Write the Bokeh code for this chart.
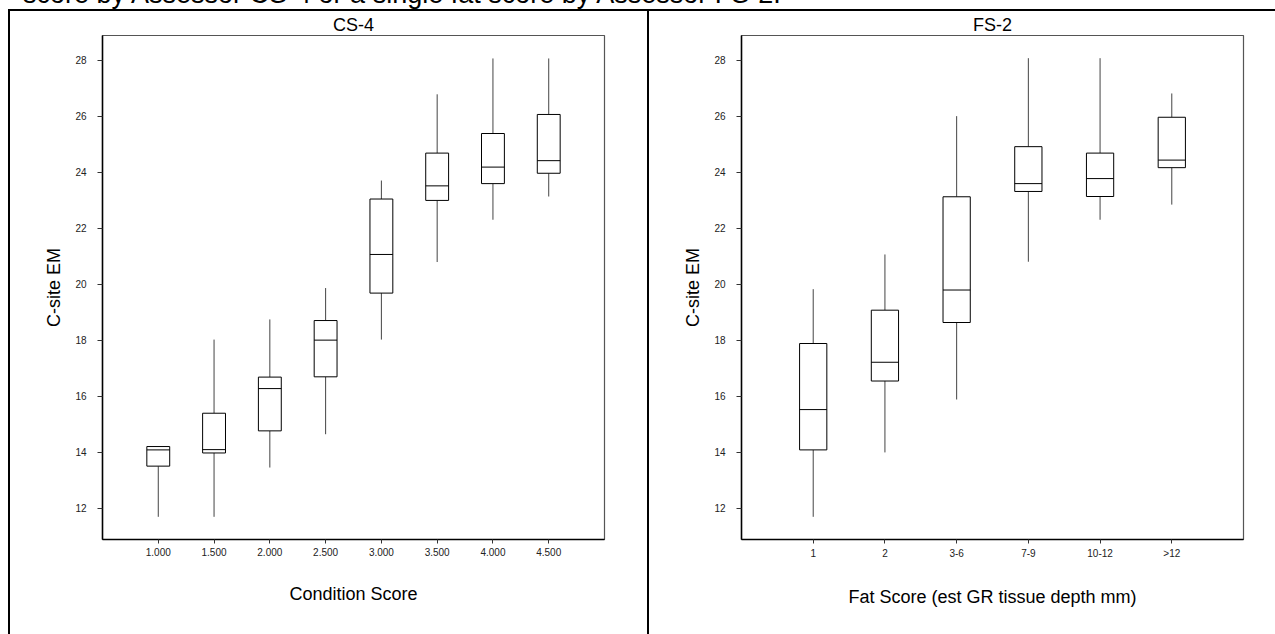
from bokeh.plotting import figure
from bokeh.layouts import row, column
from bokeh.models import Range1d, FixedTicker, Div
from bokeh.embed import file_html
from bokeh.resources import INLINE

# ---------------- data ----------------
cs_labels = ["1.000", "1.500", "2.000", "2.500", "3.000", "3.500", "4.000", "4.500"]
cs_low = [11.69, 11.69, 13.45, 14.64, 18.02, 20.79, 22.30, 23.13]
cs_q1 = [13.50, 13.97, 14.76, 16.69, 19.68, 22.99, 23.59, 23.96]
cs_med = [14.08, 14.09, 16.27, 18.00, 21.06, 23.51, 24.18, 24.41]
cs_q3 = [14.20, 15.39, 16.68, 18.70, 23.04, 24.68, 25.38, 26.06]
cs_high = [14.20, 18.02, 18.74, 19.86, 23.70, 26.78, 28.06, 28.06]

fs_labels = ["1", "2", "3-6", "7-9", "10-12", ">12"]
fs_low = [11.69, 13.99, 15.88, 20.80, 22.30, 22.84]
fs_q1 = [14.08, 16.54, 18.63, 23.31, 23.13, 24.16]
fs_med = [15.52, 17.21, 19.79, 23.59, 23.77, 24.43]
fs_q3 = [17.88, 19.07, 23.12, 24.91, 24.68, 25.96]
fs_high = [19.82, 21.06, 26.00, 28.07, 28.07, 26.81]

y_ticks = [12, 14, 16, 18, 20, 22, 24, 26, 28]

sentence = "score by Assessor CS-4 or a single fat score by Assessor FS-2."

FONT = "Liberation Sans"
TOP_STRIP = 9
H = 634 - TOP_STRIP
MB_TOP = 26
MB_BOT = 95


def panel(title, labels, low, q1, med, q3, high, xlabel, width, left, right, box_w):
    n = len(labels)
    xs = list(range(1, n + 1))
    p = figure(width=width, height=H, x_range=Range1d(0, n + 1),
               y_range=Range1d(10.88, 28.88), output_backend="svg",
               toolbar_location=None, min_border_left=left, min_border_right=right,
               min_border_top=MB_TOP, min_border_bottom=MB_BOT)
    p.grid.visible = False
    p.background_fill_color = "white"
    p.border_fill_alpha = 0
    p.outline_line_color = "#555555"
    p.outline_line_width = 1.2

    p.title.text = title
    p.title.align = "center"
    p.title.text_font = FONT
    p.title.text_font_size = "18px"
    p.title.text_font_style = "normal"
    p.title.text_color = "black"
    p.title.standoff = 2

    # whiskers
    p.segment(x0=xs, y0=low, x1=xs, y1=q1, line_color="#444444", line_width=1)
    p.segment(x0=xs, y0=q3, x1=xs, y1=high, line_color="#444444", line_width=1)
    # boxes
    p.vbar(x=xs, width=box_w, bottom=q1, top=q3, fill_color="white",
           line_color="black", line_width=1)
    # medians
    p.segment(x0=[x - box_w / 2 for x in xs], y0=med,
              x1=[x + box_w / 2 for x in xs], y1=med,
              line_color="black", line_width=1)

    # axes
    p.xaxis.ticker = FixedTicker(ticks=xs)
    p.xaxis.major_label_overrides = {x: lab for x, lab in zip(xs, labels)}
    p.yaxis.ticker = FixedTicker(ticks=y_ticks)
    for ax in (p.xaxis[0], p.yaxis[0]):
        ax.minor_tick_line_color = None
        ax.axis_line_color = "black"
        ax.axis_line_width = 1.5
        ax.major_tick_line_color = "#333333"
        ax.major_tick_in = 0
        ax.major_label_text_font = FONT
        ax.major_label_text_font_size = "10px"
        ax.major_label_text_color = "#222222"
        ax.axis_label_text_font = FONT
        ax.axis_label_text_font_size = "18px"
        ax.axis_label_text_font_style = "normal"
        ax.axis_label_text_color = "black"
    p.xaxis.major_tick_out = 4
    p.yaxis.major_tick_out = 5
    p.xaxis.major_label_standoff = 4
    p.yaxis.major_label_standoff = 11
    p.xaxis.axis_label = xlabel
    p.yaxis.axis_label = "C-site EM"
    p.xaxis.axis_label_standoff = 25
    p.yaxis.axis_label_standoff = 8
    return p


p1 = panel("CS-4", cs_labels, cs_low, cs_q1, cs_med, cs_q3, cs_high,
           "Condition Score", 647, 102, 43, 0.41)
p2 = panel("FS-2", fs_labels, fs_low, fs_q1, fs_med, fs_q3, fs_high,
           "Fat Score (est GR tissue depth mm)", 628, 94, 32, 0.38)

# the (cut-off) sentence of the surrounding document above the figure
head = Div(
    text=('<div style="position:relative; top:-19px; left:23px; margin:0; '
          "white-space:nowrap; "
          "font-family:'Liberation Sans', Arial, sans-serif; font-size:27px; "
          'line-height:27px; color:black;">' + sentence + "</div>"),
    width=1275, height=TOP_STRIP, margin=0,
    styles={"overflow": "hidden", "background-color": "white"},
)

# document frame lines (top rule, left rule, divider between the two panels)
panels = row(
    p1, p2,
    styles={
        "background-color": "white",
        "background-image": ("linear-gradient(black, black), "
                             "linear-gradient(black, black), "
                             "linear-gradient(black, black)"),
        "background-size": "100% 2px, 2px 100%, 2px 100%",
        "background-position": "8px 0px, 8px 0px, 647px 0px",
        "background-repeat": "no-repeat",
    },
)

layout = column(head, panels)
open("out.html", "w").write(file_html(layout, INLINE))
